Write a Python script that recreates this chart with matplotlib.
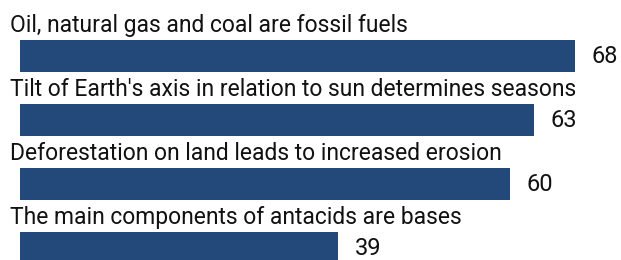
import matplotlib.pyplot as plt

# statements and share answering correctly (%)
statements = ["Oil, natural gas and coal are fossil fuels",
              "Tilt of Earth's axis in relation to sun determines seasons",
              "Deforestation on land leads to increased erosion",
              "The main components of antacids are bases"]
values = [68, 63, 60, 39]

bar_color = '#22497a'
font = ['Roboto', 'DejaVu Sans']

fig = plt.figure(figsize=(6.21, 2.60), dpi=100)
ax = fig.add_axes([0, 0, 1, 1])

pos = list(range(len(values)))
ax.barh(pos, values, height=0.51, color=bar_color)

# pixel -> data scale: 8.16 px per unit on x, 64 px per bar slot on y
ax.set_xlim(-20 / 8.16, (621 - 20) / 8.16)
ax.set_ylim(3.1875, -0.875)

for p, label, v in zip(pos, statements, values):
    ax.text(-10 / 8.16, p - 0.38, label, ha='left', va='baseline',
            fontsize=16.5, family=font, color='#111111')
    ax.annotate(str(v), xy=(v, p), xytext=(12, -0.5), textcoords='offset points',
                ha='left', va='center', fontsize=17, family=font,
                color='#111111')

ax.axis('off')
fig.savefig('out.png', dpi=100)
